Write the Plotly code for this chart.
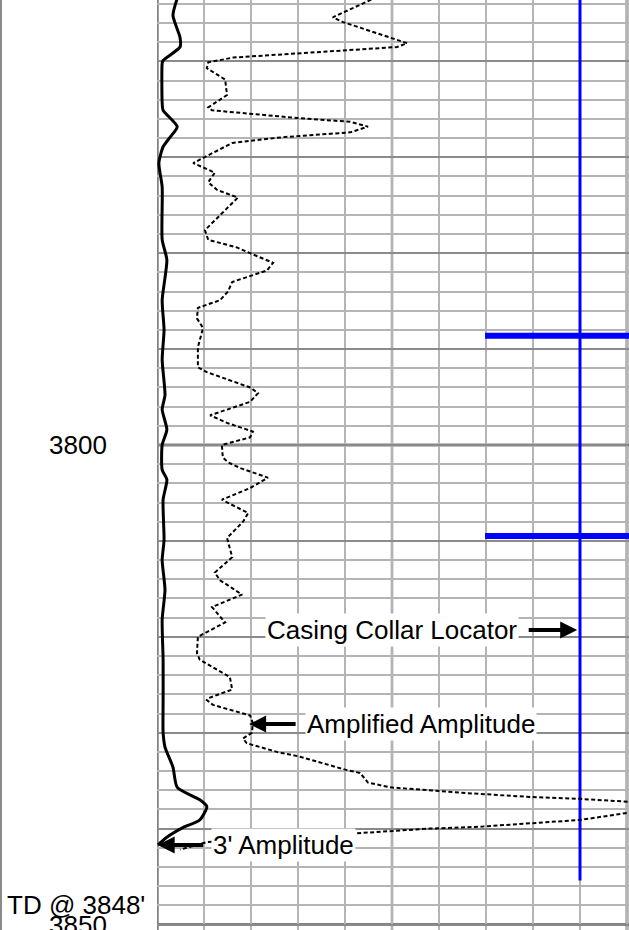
import plotly.graph_objects as go

# ---------------- data (depth in ft, amplitude in chart units 0-100) ----------------
amp3_depth = [3753.0, 3755.2, 3757.5, 3758.5, 3759.9, 3760.2, 3764.3, 3765.1, 3766.8, 3767.9,
              3768.9, 3770.6, 3773.1, 3778.6, 3780.7, 3784.9, 3788.0, 3791.1, 3794.8, 3796.3,
              3798.4, 3800.0, 3802.6, 3803.6, 3805.7, 3809.9, 3812.0, 3815.1, 3818.2, 3822.4,
              3826.6, 3830.0, 3831.5, 3833.6, 3835.7, 3837.0, 3837.7, 3839.1, 3839.9, 3840.9,
              3841.7]
amp3_value = [4.6, 3.4, 4.9, 4.9, 1.3, 1.1, 1.1, 1.3, 4.3, 2.8,
              1.3, 0.4, 1.1, 1.1, 2.1, 1.1, 1.5, 1.1, 1.7, 1.1,
              2.1, 1.1, 1.1, 2.1, 1.3, 1.5, 1.1, 1.7, 1.1, 1.3,
              1.3, 1.3, 1.7, 3.4, 4.3, 9.1, 10.6, 9.1, 5.5, 2.1,
              0.2]

ampl_depth = [3753.0, 3755.4, 3755.9, 3758.1, 3758.5, 3759.1, 3759.6, 3760.1, 3760.7, 3761.9,
              3763.5, 3764.8, 3765.1, 3765.9, 3766.3, 3766.8, 3767.4, 3767.9, 3768.5, 3770.6,
              3771.6, 3772.6, 3773.4, 3774.2, 3777.6, 3778.6, 3779.4, 3780.0, 3781.0, 3781.8,
              3783.0, 3784.0, 3784.9, 3785.7, 3786.8, 3787.8, 3789.8, 3791.9, 3792.4, 3794.0,
              3794.6, 3795.5, 3796.9, 3797.7, 3798.6, 3799.2, 3800.0, 3801.3, 3801.8, 3802.4,
              3803.4, 3804.5, 3805.7, 3807.1, 3808.0, 3809.7, 3811.7, 3813.3, 3814.1, 3815.6,
              3816.9, 3818.5, 3820.0, 3821.7, 3822.4, 3824.2, 3825.5, 3826.4, 3826.6, 3827.1,
              3828.2, 3829.0, 3830.0, 3830.6, 3831.1, 3832.0, 3832.5, 3833.9, 3834.2, 3835.2,
              3835.7, 3836.3, 3836.7, 3836.9, 3837.2, 3837.7, 3838.4, 3839.1, 3839.8, 3840.0,
              3840.5, 3841.4, 3842.2]
ampl_value = [48.1, 37.4, 39.6, 53.2, 51.1, 32.6, 16.2, 10.9, 10.6, 14.5,
              14.9, 10.9, 11.7, 29.8, 41.1, 44.9, 41.1, 26.8, 16.0, 7.7,
              12.3, 10.9, 12.8, 17.2, 10.2, 10.9, 17.0, 19.8, 24.7, 23.4,
              16.0, 15.1, 13.4, 8.7, 8.5, 9.8, 8.7, 8.7, 10.6, 19.8,
              21.5, 19.8, 11.3, 14.9, 20.4, 19.8, 13.8, 14.0, 15.1, 17.7,
              23.6, 19.8, 13.8, 19.4, 18.3, 14.9, 16.0, 12.3, 13.4, 18.1,
              11.7, 14.5, 8.7, 8.5, 9.1, 15.5, 16.0, 10.9, 10.6, 11.9,
              19.8, 20.4, 20.2, 18.3, 19.1, 25.5, 30.4, 40.4, 43.2, 44.9,
              49.6, 66.0, 79.4, 90.0, 100.2, 111.3, 99.6, 90.0, 68.7, 58.1,
              42.1, 10.6, 4.9]

ccl_depth = [3753.0, 3845.4]
ccl_value = [90.0, 90.0]
collar_depths = [3788.6, 3809.5]
collar_extent = [69.8, 101.0]

depth_labels = [3800, 3850]
td_depth = 3848

FONT = "Liberation Sans, Arial, sans-serif"

fig = go.Figure()

fig.add_trace(go.Scatter(x=ccl_value, y=ccl_depth, mode="lines",
                         line=dict(color="#0000ff", width=3), showlegend=False))
cx, cy = [], []
for d in collar_depths:
    cx += [collar_extent[0], collar_extent[1], None]
    cy += [d, d, None]
fig.add_trace(go.Scatter(x=cx, y=cy, mode="lines",
                         line=dict(color="#0000ff", width=6), showlegend=False))
fig.add_trace(go.Scatter(x=ampl_value, y=ampl_depth, mode="lines",
                         line=dict(color="black", width=2, dash="4px,2.5px"),
                         showlegend=False))
fig.add_trace(go.Scatter(x=amp3_value, y=amp3_depth, mode="lines",
                         line=dict(color="black", width=3, shape="spline", smoothing=0.6),
                         showlegend=False))

W, H = 629, 930
x0px, x100px = 157, 627
ppu = (x100px - x0px) / 100.0
xmax = (W - x0px) / ppu
ppf = 9.59
ytop = 3800 - 445 / ppf
ybot = 3800 + (H - 445) / ppf

fig.update_layout(
    width=W, height=H, margin=dict(l=0, r=0, t=0, b=0),
    paper_bgcolor="white", plot_bgcolor="white",
    font=dict(family=FONT, size=26, color="black"),
    xaxis=dict(domain=[x0px / W, 1], range=[0, xmax], showticklabels=False,
               ticks="", zeroline=False, showline=False,
               showgrid=True, tick0=0, dtick=10, gridcolor="#b4b4b4", gridwidth=2),
    yaxis=dict(domain=[0, 1], range=[ybot, ytop], showticklabels=False, ticks="",
               zeroline=False, showline=False,
               showgrid=True, tick0=3750, dtick=10, gridcolor="#8a8a8a", gridwidth=2,
               minor=dict(showgrid=True, tick0=3750, dtick=2, gridcolor="#b4b4b4",
                          gridwidth=1.5)),
)

shapes = []
for xv, col, w in [(0, "#808080", 3.5), (50, "#8a8a8a", 2.5), (100, "#808080", 3)]:
    shapes.append(dict(type="line", xref="x", yref="paper", x0=xv, x1=xv, y0=0, y1=1,
                       line=dict(color=col, width=w), layer="below"))
for dv in depth_labels:
    shapes.append(dict(type="line", xref="x", yref="y", x0=0, x1=xmax, y0=dv, y1=dv,
                       line=dict(color="#808080", width=3), layer="below"))
shapes.append(dict(type="line", xref="paper", yref="paper", x0=1 / W, x1=1 / W, y0=0, y1=1,
                   line=dict(color="#8a8a8a", width=2)))
fig.update_layout(shapes=shapes)

ann = []
for dv in depth_labels:
    ann.append(dict(x=78 / W, xref="paper", y=dv, yref="y", text=str(dv), showarrow=False,
                    xanchor="center", yanchor="middle"))
ann.append(dict(x=76 / W, xref="paper", y=td_depth, yref="y", text="TD @ 3848'",
                showarrow=False, xanchor="center", yanchor="middle"))

for hx, hy, ax in [(89.4, 3819.3, -50), (19.6, 3829.1, 48), (0.15, 3841.7, 47)]:
    ann.append(dict(x=hx, y=hy, xref="x", yref="y", text="", showarrow=True,
                    ax=ax, ay=0, arrowhead=2, arrowsize=0.85, arrowwidth=4,
                    arrowcolor="black", standoff=0))

ann.append(dict(x=(519 - x0px) / ppu, y=3819.3, xref="x", yref="y",
                text="Casing Collar Locator", showarrow=False, xanchor="right",
                yanchor="middle", bgcolor="white", borderpad=1))
ann.append(dict(x=(305 - x0px) / ppu, y=3829.1, xref="x", yref="y",
                text="Amplified Amplitude", showarrow=False, xanchor="left",
                yanchor="middle", bgcolor="white", borderpad=1))
ann.append(dict(x=(211 - x0px) / ppu, y=3841.7, xref="x", yref="y",
                text="3' Amplitude", showarrow=False, xanchor="left",
                yanchor="middle", bgcolor="white", borderpad=1))
fig.update_layout(annotations=ann)

fig.write_html("out.html", config={"displayModeBar": False},
               post_script="document.body.style.margin='0';document.body.style.padding='0';")
